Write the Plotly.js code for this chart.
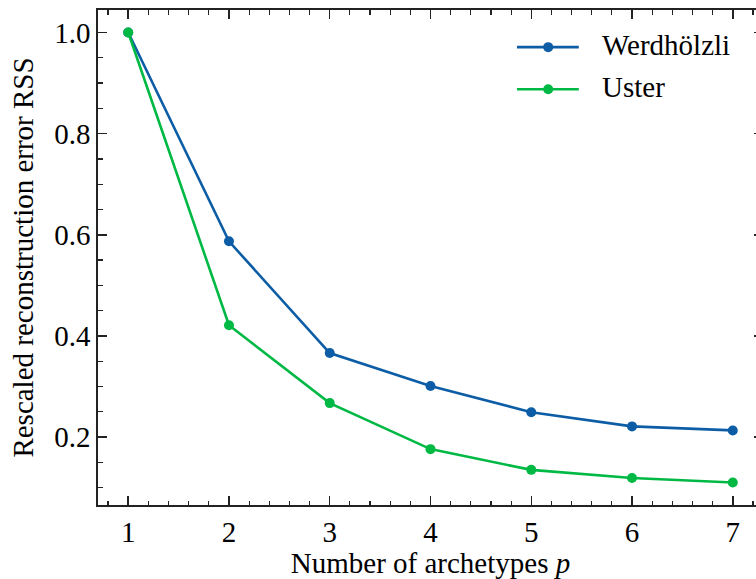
<!DOCTYPE html>
<html>
<head>
<meta charset="utf-8">
<script src="https://cdn.plot.ly/plotly-3.0.1.min.js"></script>
<style>
  html, body { margin: 0; padding: 0; overflow: hidden; background: #fff; }
  #chart { width: 770px; height: 579px; }
</style>
</head>
<body>
<div id="chart"></div>
<script>
// Number of archetypes p
const archetypes = [1, 2, 3, 4, 5, 6, 7];
// Rescaled reconstruction error (RSS) per site
const seriesNames = ['Werdhölzli', 'Uster'];
const werdhoelzli = [1.0, 0.587, 0.366, 0.301, 0.249, 0.221, 0.213];
const uster = [1.0, 0.421, 0.267, 0.176, 0.135, 0.119, 0.110];
const seriesColors = ['#0C5DA5', '#00B945'];

const xTicks = [1, 2, 3, 4, 5, 6, 7];
const yTicks = [0.2, 0.4, 0.6, 0.8, 1.0];
const yTickText = ['0.2', '0.4', '0.6', '0.8', '1.0'];

const FONT = "'Liberation Serif', 'Times New Roman', serif";
const FS = 29;

const traces = [werdhoelzli, uster].map((vals, i) => ({
  x: archetypes,
  y: vals,
  name: seriesNames[i],
  type: 'scatter',
  mode: 'lines+markers',
  line: { color: seriesColors[i], width: 2.6 },
  marker: { color: seriesColors[i], size: 10 },
  showlegend: false,
  cliponaxis: false
}));

// Hand-built legend: long line sample with centred marker, text to the right
const legendShapes = [];
const legendNotes = [];
const legendRows = [0.925, 0.84];
seriesNames.forEach((name, i) => {
  const yp = legendRows[i];
  legendShapes.push({
    type: 'line', xref: 'paper', yref: 'paper',
    x0: 0.630, x1: 0.723, y0: yp, y1: yp,
    line: { color: seriesColors[i], width: 2.6 }
  });
  legendShapes.push({
    type: 'circle', xref: 'paper', yref: 'paper',
    xsizemode: 'pixel', ysizemode: 'pixel',
    xanchor: 0.677, yanchor: yp,
    x0: -5, x1: 5, y0: -5, y1: 5,
    fillcolor: seriesColors[i], line: { width: 0 }
  });
  legendNotes.push({
    xref: 'paper', yref: 'paper', x: 0.755, y: yp,
    xanchor: 'left', yanchor: 'middle', yshift: 2,
    text: name, showarrow: false,
    font: { family: FONT, size: FS, color: '#000' }
  });
});

const axisCommon = {
  showgrid: false, zeroline: false,
  showline: true, linecolor: '#222', linewidth: 1.8,
  mirror: 'ticks', ticks: 'inside', ticklen: 9, tickwidth: 1.5, tickcolor: '#222',
  tickfont: { family: FONT, size: FS, color: '#000' }
};

const layout = {
  width: 770, height: 579,
  margin: { l: 98, r: 7, t: 10, b: 74 },
  paper_bgcolor: '#fff', plot_bgcolor: '#fff',
  font: { family: FONT, size: FS, color: '#000' },
  xaxis: Object.assign({}, axisCommon, {
    range: [0.7, 7.3],
    tickvals: xTicks,
    ticktext: xTicks.map(String),
    minor: { ticks: 'inside', dtick: 0.2, tick0: 0, ticklen: 4.5, tickwidth: 1.2, tickcolor: '#222' },
    title: { text: 'Number of archetypes <i>p</i>', font: { family: FONT, size: FS, color: '#000' }, standoff: 10 }
  }),
  yaxis: Object.assign({}, axisCommon, {
    range: [0.0655, 1.0445],
    tickvals: yTicks,
    ticktext: yTickText,
    minor: { ticks: 'inside', dtick: 0.05, tick0: 0, ticklen: 4.5, tickwidth: 1.2, tickcolor: '#222' },
    title: { text: 'Rescaled reconstruction error RSS', font: { family: FONT, size: FS, color: '#000' }, standoff: 12 }
  }),
  shapes: legendShapes,
  annotations: legendNotes
};

Plotly.newPlot('chart', traces, layout, { displayModeBar: false, staticPlot: true });
</script>
</body>
</html>
